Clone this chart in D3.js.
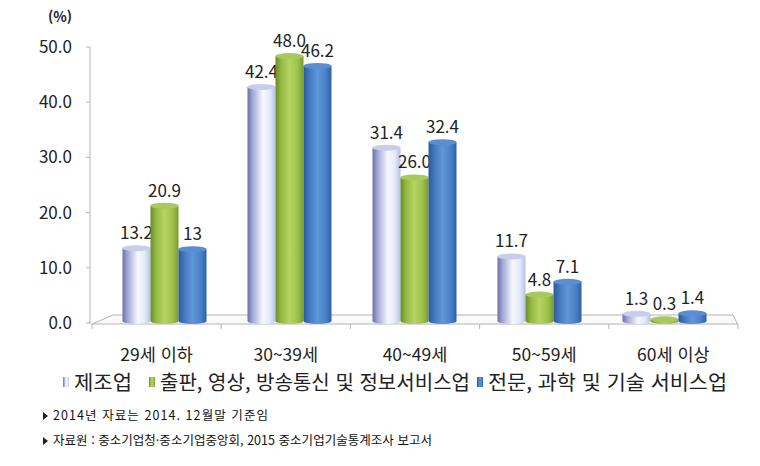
<!DOCTYPE html>
<html lang="ko">
  <head>
    <meta charset="UTF-8" />
    <title>연령대별 연구원 분포</title>
    <script src="https://d3js.org/d3.v7.min.js"></script>
    <style>
      body {
        margin: 0;
        background: #fff;
      }
      svg text {
        font-family: "Noto Sans CJK KR", "Noto Sans", sans-serif;
        fill: #222;
      }
    </style>
  </head>
  <body>
    <div id="chart"></div>
    <script>
      const categories = ["29세 이하", "30~39세", "40~49세", "50~59세", "60세 이상"];
      const seriesNames = [
        "제조업",
        "출판, 영상, 방송통신 및 정보서비스업",
        "전문, 과학 및 기술 서비스업",
      ];
      const manufacturing = [13.2, 42.4, 31.4, 11.7, 1.3];
      const publishing = [20.9, 48.0, 26.0, 4.8, 0.3];
      const professional = [13, 46.2, 32.4, 7.1, 1.4];
      const manufacturingLabels = ["13.2", "42.4", "31.4", "11.7", "1.3"];
      const publishingLabels = ["20.9", "48.0", "26.0", "4.8", "0.3"];
      const professionalLabels = ["13", "46.2", "32.4", "7.1", "1.4"];
      const yTicks = [0, 10, 20, 30, 40, 50];
      const notes = [
        "2014년 자료는 2014. 12월말 기준임",
        "자료원 : 중소기업청·중소기업중앙회, 2015 중소기업기술통계조사 보고서",
      ];

      const width = 760;
      const height = 466;

      const series = [
        {name: seriesNames[0], values: manufacturing, labels: manufacturingLabels, id: "g0"},
        {name: seriesNames[1], values: publishing, labels: publishingLabels, id: "g1"},
        {name: seriesNames[2], values: professional, labels: professionalLabels, id: "g2"},
      ];

      const gradients = {
        g0: {
          top: "#c9cdea",
          stops: [
            [0, "#6a70a6"],
            [0.18, "#a0a7d6"],
            [0.55, "#f7f9ff"],
            [0.8, "#e2e9fa"],
            [1, "#b6c2e4"],
          ],
        },
        g1: {
          top: "#a9c95f",
          stops: [
            [0, "#6b8c2a"],
            [0.2, "#94b942"],
            [0.5, "#b5d463"],
            [0.8, "#9dc04b"],
            [1, "#779b31"],
          ],
        },
        g2: {
          top: "#5b8dd0",
          stops: [
            [0, "#2a5a9c"],
            [0.25, "#497dc3"],
            [0.5, "#6097d9"],
            [0.8, "#4a80c6"],
            [1, "#2d61a6"],
          ],
        },
      };

      const svg = d3
        .select("#chart")
        .append("svg")
        .attr("width", width)
        .attr("height", height);

      const defs = svg.append("defs");
      Object.entries(gradients).forEach(([id, g]) => {
        defs
          .append("linearGradient")
          .attr("id", id)
          .attr("x1", 0)
          .attr("x2", 1)
          .attr("y1", 0)
          .attr("y2", 0)
          .selectAll("stop")
          .data(g.stops)
          .join("stop")
          .attr("offset", (d) => d[0])
          .attr("stop-color", (d) => d[1]);
      });

      const y = d3.scaleLinear().domain([0, 50]).range([323, 47]);

      // bars sit on the middle of the floor, labels on its front edge
      const x0 = d3
        .scaleBand()
        .domain(categories)
        .range([102, 727])
        .paddingInner(0.328)
        .paddingOuter(0.164);
      const x1 = d3
        .scaleBand()
        .domain(seriesNames)
        .range([0, x0.bandwidth()]);
      const xFront = d3.scaleBand().domain(categories).range([92, 738]);

      const axisColor = "#b5b5b5";
      const base = y(0);

      // floor
      const floor = svg.append("g").attr("stroke", axisColor).attr("fill", "none");
      floor
        .append("path")
        .attr("fill", "#fafafa")
        .attr(
          "d",
          `M${xFront.range()[0]},${base + 1} L${xFront.range()[0] + 21},${base - 8} L${
            xFront.range()[1] - 5
          },${base - 8} L${xFront.range()[1]},${base + 2}`
        );
      floor
        .append("line")
        .attr("x1", xFront.range()[0])
        .attr("x2", xFront.range()[1])
        .attr("y1", base + 1)
        .attr("y2", base + 1);
      floor
        .selectAll(".sep")
        .data(d3.range(categories.length + 1))
        .join("line")
        .attr("x1", (i) => xFront.range()[0] + i * xFront.step())
        .attr("x2", (i) => xFront.range()[0] + i * xFront.step())
        .attr("y1", base + 1)
        .attr("y2", base + 6);

      // y axis
      const yAxis = svg.append("g");
      yAxis
        .append("line")
        .attr("x1", 90)
        .attr("x2", 90)
        .attr("y1", y(50))
        .attr("y2", base + 1)
        .attr("stroke", axisColor);
      yAxis
        .selectAll(".tick")
        .data(yTicks)
        .join("line")
        .attr("x1", 86)
        .attr("x2", 90)
        .attr("y1", (d) => y(d))
        .attr("y2", (d) => y(d))
        .attr("stroke", axisColor);
      yAxis
        .selectAll(".label")
        .data(yTicks)
        .join("text")
        .attr("x", 72)
        .attr("y", (d) => y(d))
        .attr("dy", "0.35em")
        .attr("text-anchor", "end")
        .attr("font-size", "17px")
        .text((d) => d3.format(".1f")(d));

      svg
        .append("text")
        .attr("x", 60)
        .attr("y", 17)
        .attr("dy", "0.35em")
        .attr("text-anchor", "middle")
        .attr("font-size", "14px")
        .attr("font-weight", "bold")
        .text("(%)");

      // cylinders
      const rx = x1.bandwidth() / 2;
      const ry = 3;
      const barBottom = base - 2;

      series.forEach((s) => {
        const g = svg.append("g");
        const items = categories.map((c, i) => ({
          cx: x0(c) + x1(s.name) + rx,
          top: y(s.values[i]) - 2,
          label: s.labels[i],
        }));

        g.selectAll(".body")
          .data(items)
          .join("path")
          .attr("fill", `url(#${s.id})`)
          .attr(
            "d",
            (d) =>
              `M${d.cx - rx},${d.top} L${d.cx - rx},${barBottom} A${rx},${ry} 0 0 0 ${d.cx + rx},${barBottom} L${
                d.cx + rx
              },${d.top} Z`
          );

        g.selectAll(".cap")
          .data(items)
          .join("ellipse")
          .attr("cx", (d) => d.cx)
          .attr("cy", (d) => d.top)
          .attr("rx", rx)
          .attr("ry", ry)
          .attr("fill", gradients[s.id].top);

        g.selectAll(".val")
          .data(items)
          .join("text")
          .attr("x", (d) => d.cx)
          .attr("y", (d) => d.top - 9)
          .attr("text-anchor", "middle")
          .attr("font-size", "17px")
          .text((d) => d.label);
      });

      // category labels
      svg
        .selectAll(".cat")
        .data(categories)
        .join("text")
        .attr("x", (d) => xFront(d) + xFront.bandwidth() / 2)
        .attr("y", 355)
        .attr("dy", "0.35em")
        .attr("text-anchor", "middle")
        .attr("font-size", "17.5px")
        .text((d) => d);

      // legend
      const legend = svg.append("g");
      const legendX = [63, 149, 477];
      const legendWidth = [58, 310, 239];
      series.forEach((s, i) => {
        legend
          .append("rect")
          .attr("x", legendX[i])
          .attr("y", 377)
          .attr("width", 6)
          .attr("height", 10)
          .attr("fill", `url(#${s.id})`);
        legend
          .append("text")
          .attr("x", legendX[i] + 11)
          .attr("y", 383)
          .attr("dy", "0.35em")
          .attr("font-size", "20px")
          .attr("textLength", legendWidth[i])
          .attr("lengthAdjust", "spacingAndGlyphs")
          .text(s.name);
      });

      // notes
      const noteY = [416, 441];
      const noteWidth = [215, 379];
      notes.forEach((n, i) => {
        svg
          .append("path")
          .attr("d", `M43,${noteY[i] - 4} L48,${noteY[i]} L43,${noteY[i] + 4} Z`)
          .attr("fill", "#222");
        svg
          .append("text")
          .attr("x", 53)
          .attr("y", noteY[i])
          .attr("dy", "0.35em")
          .attr("font-size", "12.5px")
          .attr("textLength", noteWidth[i])
          .attr("lengthAdjust", "spacing")
          .style("fill", "#111")
          .text(n);
      });
    </script>
  </body>
</html>
